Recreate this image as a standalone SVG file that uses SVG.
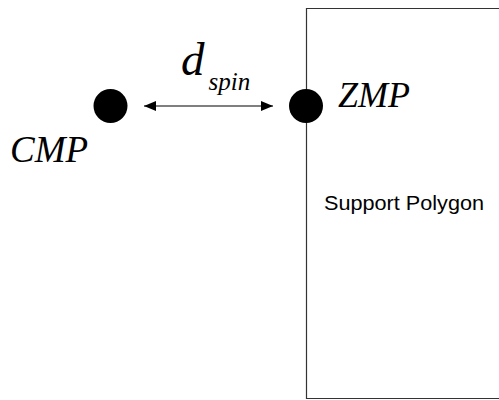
<svg xmlns="http://www.w3.org/2000/svg" width="499" height="400" viewBox="0 0 499 400">
<style>
.lbl{font-style:italic;fill:#000}
.dot{fill:#000}
</style>
<defs>
<marker id="ah" viewBox="0 0 12 10" refX="12" refY="5" markerWidth="12" markerHeight="10" markerUnits="userSpaceOnUse" orient="auto-start-reverse">
<path d="M0,0 L12,5 L0,10 Z" fill="#000"/>
</marker>
</defs>
<rect width="499" height="400" fill="#fff"/>
<g id="support-polygon">
<path d="M520,8.5 H306.5 V398.5 H520" fill="none" stroke="#333" stroke-width="1.2"/>
<text x="324" y="210" font-family="Liberation Sans, Arial, sans-serif" font-size="20.5" textLength="160" lengthAdjust="spacingAndGlyphs" fill="#000">Support Polygon</text>
</g>
<g id="cmp">
<circle class="dot" cx="110.5" cy="106" r="17"/>
<text class="lbl" font-family="Liberation Serif, Times New Roman, serif" x="10" y="162" font-size="37">CMP</text>
</g>
<g id="zmp">
<circle class="dot" cx="306" cy="106" r="17"/>
<text class="lbl" font-family="Liberation Serif, Times New Roman, serif" x="338" y="107" font-size="36">ZMP</text>
</g>
<g id="connectors">
<line x1="144" y1="106" x2="273" y2="106" stroke="#555" stroke-width="1.5" marker-start="url(#ah)" marker-end="url(#ah)"/>
<text class="lbl" font-family="Liberation Serif, Times New Roman, serif" x="181" y="75" font-size="47">d<tspan font-size="25" dx="4" dy="15">spin</tspan></text>
</g>
</svg>
